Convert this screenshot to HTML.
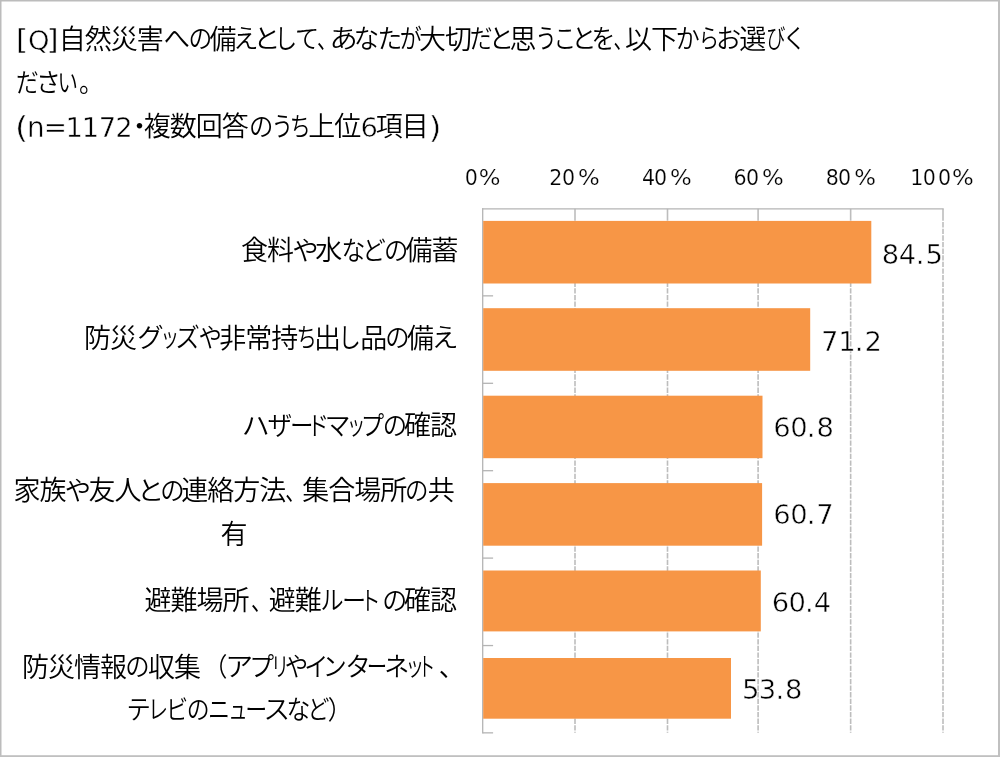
<!DOCTYPE html>
<html lang="ja"><head><meta charset="utf-8"><title>chart</title>
<style>
html,body{margin:0;padding:0;background:#fff}
body{width:1000px;height:757px;overflow:hidden;position:relative}
svg{position:absolute;left:0;top:0;display:block}
text{font-family:"Liberation Sans","Noto Sans CJK JP",sans-serif;fill:#000;white-space:pre;font-size:26.0px;font-weight:350}
.num{font-family:"DejaVu Sans","Liberation Sans",sans-serif;font-weight:400;stroke:#fff;stroke-width:0.5px}
.ax{font-size:20.6px;stroke-width:0.2px}
.kj{font-size:27px;letter-spacing:-1px}
</style></head><body>
<svg width="1000" height="757" viewBox="0 0 1000 757">
<rect x="0" y="0" width="1000" height="757" fill="#fff"/>
<rect x="0" y="0" width="1000" height="1.5" fill="#bcbcbc"/>
<rect x="0" y="0" width="1.5" height="757" fill="#bcbcbc"/>
<rect x="998" y="0" width="2" height="757" fill="#c0c0c0"/>
<rect x="0" y="755.2" width="1000" height="1.8" fill="#c0c0c0"/>
<line x1="575.00" y1="208.80" x2="575.00" y2="220.7" stroke="#bdbdbd" stroke-width="1.6"/>
<line x1="575.00" y1="222.1" x2="575.00" y2="732.85" stroke="#bdbdbd" stroke-width="1.6" stroke-dasharray="5.3 1.32"/>
<line x1="667.50" y1="208.80" x2="667.50" y2="220.7" stroke="#bdbdbd" stroke-width="1.6"/>
<line x1="667.50" y1="222.1" x2="667.50" y2="732.85" stroke="#bdbdbd" stroke-width="1.6" stroke-dasharray="5.3 1.32"/>
<line x1="758.10" y1="208.80" x2="758.10" y2="220.7" stroke="#bdbdbd" stroke-width="1.6"/>
<line x1="758.10" y1="222.1" x2="758.10" y2="732.85" stroke="#bdbdbd" stroke-width="1.6" stroke-dasharray="5.3 1.32"/>
<line x1="850.65" y1="208.80" x2="850.65" y2="220.7" stroke="#bdbdbd" stroke-width="1.6"/>
<line x1="850.65" y1="222.1" x2="850.65" y2="732.85" stroke="#bdbdbd" stroke-width="1.6" stroke-dasharray="5.3 1.32"/>
<line x1="943.00" y1="208.80" x2="943.00" y2="220.7" stroke="#bdbdbd" stroke-width="1.6"/>
<line x1="943.00" y1="222.1" x2="943.00" y2="732.85" stroke="#bdbdbd" stroke-width="1.6" stroke-dasharray="5.3 1.32"/>
<line x1="482.05" y1="208.8" x2="943.65" y2="208.8" stroke="#b4b4b4" stroke-width="1.3"/>
<line x1="482.7" y1="208.15" x2="482.7" y2="733.5" stroke="#b4b4b4" stroke-width="1.3"/>
<line x1="482.7" y1="295.85" x2="493.10" y2="295.85" stroke="#b4b4b4" stroke-width="1.3"/>
<line x1="482.7" y1="383.3" x2="493.10" y2="383.3" stroke="#b4b4b4" stroke-width="1.3"/>
<line x1="482.7" y1="470.7" x2="493.10" y2="470.7" stroke="#b4b4b4" stroke-width="1.3"/>
<line x1="482.7" y1="558.1" x2="493.10" y2="558.1" stroke="#b4b4b4" stroke-width="1.3"/>
<line x1="482.7" y1="645.55" x2="493.10" y2="645.55" stroke="#b4b4b4" stroke-width="1.3"/>
<line x1="482.7" y1="732.85" x2="493.10" y2="732.85" stroke="#b4b4b4" stroke-width="1.3"/>
<rect x="483.20" y="220.9" width="388.10" height="62.60" fill="#f79646"/>
<rect x="483.20" y="308.2" width="327.00" height="62.60" fill="#f79646"/>
<rect x="483.20" y="395.7" width="279.30" height="62.50" fill="#f79646"/>
<rect x="483.20" y="483.1" width="278.90" height="62.60" fill="#f79646"/>
<rect x="483.20" y="570.5" width="277.60" height="60.90" fill="#f79646"/>
<rect x="483.20" y="658.0" width="247.80" height="60.70" fill="#f79646"/>
<text class="num ax" y="184.6"><tspan x="464.64">0</tspan><tspan x="478.74" textLength="21.72" lengthAdjust="spacingAndGlyphs">%</tspan></text>
<text class="num ax" y="184.6"><tspan x="549.36 561.90">20</tspan><tspan x="578.00" textLength="21.72" lengthAdjust="spacingAndGlyphs">%</tspan></text>
<text class="num ax" y="184.6"><tspan x="641.91 653.96">40</tspan><tspan x="670.06" textLength="21.72" lengthAdjust="spacingAndGlyphs">%</tspan></text>
<text class="num ax" y="184.6"><tspan x="733.54 746.02">60</tspan><tspan x="762.12" textLength="21.72" lengthAdjust="spacingAndGlyphs">%</tspan></text>
<text class="num ax" y="184.6"><tspan x="825.64 838.08">80</tspan><tspan x="854.18" textLength="21.72" lengthAdjust="spacingAndGlyphs">%</tspan></text>
<text class="num ax" y="184.6"><tspan x="910.23 922.74 937.94">100</tspan><tspan x="952.04" textLength="21.72" lengthAdjust="spacingAndGlyphs">%</tspan></text>
<text class="num" style="font-size:27.4px" x="881.74 898.66 915.87 925.49" y="264.0">84.5</text>
<text class="num" style="font-size:27.4px" x="820.95 838.19 854.67 864.40" y="351.2">71.2</text>
<text class="num" style="font-size:27.4px" x="773.28 790.19 806.67 816.54" y="437.0">60.8</text>
<text class="num" style="font-size:27.4px" x="773.28 790.19 806.67 816.15" y="524.3">60.7</text>
<text class="num" style="font-size:27.4px" x="771.68 788.59 805.07 813.86" y="611.7">60.4</text>
<text class="num" style="font-size:27.4px" x="741.89 758.72 775.47 784.94" y="699.0">53.8</text>
<text><tspan class="num" style="font-size:28.8px" x="15.68" y="50.00" textLength="12.58" lengthAdjust="spacingAndGlyphs">[</tspan><tspan class="num" style="font-size:27.4px" x="27.97" y="49.60">Q</tspan><tspan class="num" style="font-size:28.8px" x="46.39" y="50.00" textLength="12.58" lengthAdjust="spacingAndGlyphs">]</tspan><tspan class="kj" x="58.80" y="48.80">自然災害</tspan><tspan x="163.51" y="48.4" textLength="26.54" lengthAdjust="spacingAndGlyphs">へ</tspan><tspan x="188.41" y="48.4" textLength="23.78" lengthAdjust="spacingAndGlyphs">の</tspan><tspan class="kj" x="209.60" y="48.80">備</tspan><tspan x="233.32" y="48.4" textLength="25.25" lengthAdjust="spacingAndGlyphs">え</tspan><tspan x="253.25" y="48.4" textLength="27.34" lengthAdjust="spacingAndGlyphs">と</tspan><tspan x="274.62" y="48.4" textLength="22.69" lengthAdjust="spacingAndGlyphs">し</tspan><tspan x="294.95" y="48.4" textLength="24.15" lengthAdjust="spacingAndGlyphs">て</tspan><tspan x="316.97" y="48.4" textLength="19.90" lengthAdjust="spacingAndGlyphs">、</tspan><tspan x="329.42" y="48.4" textLength="28.27" lengthAdjust="spacingAndGlyphs">あ</tspan><tspan x="353.87" y="48.4" textLength="25.36" lengthAdjust="spacingAndGlyphs">な</tspan><tspan x="377.50" y="48.4" textLength="24.78" lengthAdjust="spacingAndGlyphs">た</tspan><tspan x="399.84" y="48.4" textLength="21.98" lengthAdjust="spacingAndGlyphs">が</tspan><tspan class="kj" x="419.10" y="48.80">大切</tspan><tspan x="469.63" y="48.4" textLength="22.75" lengthAdjust="spacingAndGlyphs">だ</tspan><tspan x="488.65" y="48.4" textLength="25.39" lengthAdjust="spacingAndGlyphs">と</tspan><tspan class="kj" x="509.60" y="48.80">思</tspan><tspan x="535.18" y="48.4" textLength="21.52" lengthAdjust="spacingAndGlyphs">う</tspan><tspan x="553.58" y="48.4" textLength="22.66" lengthAdjust="spacingAndGlyphs">こ</tspan><tspan x="571.15" y="48.4" textLength="25.39" lengthAdjust="spacingAndGlyphs">と</tspan><tspan x="591.49" y="48.4" textLength="23.82" lengthAdjust="spacingAndGlyphs">を</tspan><tspan x="613.51" y="48.4" textLength="19.03" lengthAdjust="spacingAndGlyphs">、</tspan><tspan class="kj" x="625.10" y="48.80">以下</tspan><tspan x="675.63" y="48.4" textLength="23.96" lengthAdjust="spacingAndGlyphs">か</tspan><tspan x="698.87" y="48.4" textLength="20.40" lengthAdjust="spacingAndGlyphs">ら</tspan><tspan x="716.11" y="48.4" textLength="25.15" lengthAdjust="spacingAndGlyphs">お</tspan><tspan class="kj" x="739.25" y="48.80">選</tspan><tspan x="766.27" y="48.4" textLength="19.21" lengthAdjust="spacingAndGlyphs">び</tspan><tspan x="782.58" y="48.4" textLength="23.99" lengthAdjust="spacingAndGlyphs">く</tspan></text>
<text><tspan x="15.88" y="92.0" textLength="22.75" lengthAdjust="spacingAndGlyphs">だ</tspan><tspan x="36.07" y="92.0" textLength="24.86" lengthAdjust="spacingAndGlyphs">さ</tspan><tspan x="57.42" y="92.0" textLength="20.47" lengthAdjust="spacingAndGlyphs">い</tspan><tspan x="78.97" y="92.0" textLength="24.59" lengthAdjust="spacingAndGlyphs">。</tspan></text>
<text><tspan class="num" style="font-size:30.0px" x="14.91" y="137.60" textLength="13.10" lengthAdjust="spacingAndGlyphs">(</tspan><tspan class="num" style="font-size:27.8px" x="26.97 43.85" y="136.80">n=</tspan><tspan class="num" style="font-size:27.4px" x="65.49 81.79 98.75 115.30" y="136.80">1172</tspan><tspan class="kj" x="126.00" y="136.40">・</tspan><tspan class="kj" x="143.75" y="136.40">複数回答</tspan><tspan x="249.10" y="136.0" textLength="24.39" lengthAdjust="spacingAndGlyphs">の</tspan><tspan x="271.43" y="136.0" textLength="21.52" lengthAdjust="spacingAndGlyphs">う</tspan><tspan x="289.65" y="136.0" textLength="21.00" lengthAdjust="spacingAndGlyphs">ち</tspan><tspan class="kj" x="308.25" y="136.40">上位</tspan><tspan class="num" style="font-size:27.4px" x="360.58" y="136.80">6</tspan><tspan class="kj" x="375.70" y="136.40">項目</tspan><tspan class="num" style="font-size:30.0px" x="428.69" y="137.60" textLength="12.71" lengthAdjust="spacingAndGlyphs">)</tspan></text>
<text><tspan class="kj" x="241.00" y="260.40">食料</tspan><tspan x="292.17" y="260.0" textLength="26.38" lengthAdjust="spacingAndGlyphs">や</tspan><tspan class="kj" x="315.25" y="260.40">水</tspan><tspan x="341.51" y="260.0" textLength="23.87" lengthAdjust="spacingAndGlyphs">な</tspan><tspan x="362.13" y="260.0" textLength="23.56" lengthAdjust="spacingAndGlyphs">ど</tspan><tspan x="384.10" y="260.0" textLength="24.39" lengthAdjust="spacingAndGlyphs">の</tspan><tspan class="kj" x="405.40" y="260.40">備蓄</tspan></text>
<text><tspan class="kj" x="84.10" y="347.60">防災</tspan><tspan x="137.22" y="347.2" textLength="26.39" lengthAdjust="spacingAndGlyphs">グ</tspan><tspan x="160.44" y="347.2" textLength="18.71" lengthAdjust="spacingAndGlyphs">ッ</tspan><tspan x="175.55" y="347.2" textLength="24.31" lengthAdjust="spacingAndGlyphs">ズ</tspan><tspan x="198.59" y="347.2" textLength="23.45" lengthAdjust="spacingAndGlyphs">や</tspan><tspan class="kj" x="219.25" y="347.60">非常持</tspan><tspan x="296.47" y="347.2" textLength="20.33" lengthAdjust="spacingAndGlyphs">ち</tspan><tspan class="kj" x="314.00" y="347.60">出</tspan><tspan x="338.37" y="347.2" textLength="22.69" lengthAdjust="spacingAndGlyphs">し</tspan><tspan class="kj" x="360.25" y="347.60">品</tspan><tspan x="385.35" y="347.2" textLength="24.39" lengthAdjust="spacingAndGlyphs">の</tspan><tspan class="kj" x="407.10" y="347.60">備</tspan><tspan x="431.89" y="347.2" textLength="26.83" lengthAdjust="spacingAndGlyphs">え</tspan></text>
<text><tspan x="241.65" y="434.5" textLength="27.97" lengthAdjust="spacingAndGlyphs">ハ</tspan><tspan x="267.53" y="434.5" textLength="24.81" lengthAdjust="spacingAndGlyphs">ザ</tspan><tspan x="290.09" y="434.5" textLength="23.58" lengthAdjust="spacingAndGlyphs">ー</tspan><tspan x="307.28" y="434.5" textLength="21.78" lengthAdjust="spacingAndGlyphs">ド</tspan><tspan x="324.85" y="434.5" textLength="25.73" lengthAdjust="spacingAndGlyphs">マ</tspan><tspan x="346.69" y="434.5" textLength="18.71" lengthAdjust="spacingAndGlyphs">ッ</tspan><tspan x="360.71" y="434.5" textLength="23.42" lengthAdjust="spacingAndGlyphs">プ</tspan><tspan x="382.85" y="434.5" textLength="24.39" lengthAdjust="spacingAndGlyphs">の</tspan><tspan class="kj" x="404.10" y="434.90">確認</tspan></text>
<text><tspan class="kj" x="13.50" y="500.40">家族</tspan><tspan x="64.67" y="500.0" textLength="26.38" lengthAdjust="spacingAndGlyphs">や</tspan><tspan class="kj" x="88.50" y="500.40">友人</tspan><tspan x="137.00" y="500.0" textLength="27.34" lengthAdjust="spacingAndGlyphs">と</tspan><tspan x="160.35" y="500.0" textLength="24.39" lengthAdjust="spacingAndGlyphs">の</tspan><tspan class="kj" x="181.25" y="500.40">連絡方法</tspan><tspan x="285.22" y="500.0" textLength="19.90" lengthAdjust="spacingAndGlyphs">、</tspan><tspan class="kj" x="302.25" y="500.40">集合場所</tspan><tspan x="404.93" y="500.0" textLength="23.48" lengthAdjust="spacingAndGlyphs">の</tspan><tspan class="kj" x="427.75" y="500.40">共</tspan></text>
<text><tspan class="kj" x="220.50" y="543.90">有</tspan></text>
<text><tspan class="kj" x="144.40" y="610.40">避難場所</tspan><tspan x="250.92" y="610.0" textLength="20.76" lengthAdjust="spacingAndGlyphs">、</tspan><tspan class="kj" x="268.80" y="610.40">避難</tspan><tspan x="320.47" y="610.0" textLength="23.14" lengthAdjust="spacingAndGlyphs">ル</tspan><tspan x="342.03" y="610.0" textLength="24.21" lengthAdjust="spacingAndGlyphs">ー</tspan><tspan x="360.33" y="610.0" textLength="20.27" lengthAdjust="spacingAndGlyphs">ト</tspan><tspan x="382.30" y="610.0" textLength="25.00" lengthAdjust="spacingAndGlyphs">の</tspan><tspan class="kj" x="404.10" y="610.40">確認</tspan></text>
<text><tspan class="kj" x="21.90" y="676.60">防災情報</tspan><tspan x="125.35" y="676.2" textLength="24.39" lengthAdjust="spacingAndGlyphs">の</tspan><tspan class="kj" x="147.90" y="676.60">収集</tspan><tspan x="203.23" y="676.2" textLength="24.13" lengthAdjust="spacingAndGlyphs">（</tspan><tspan x="225.29" y="676.2" textLength="27.88" lengthAdjust="spacingAndGlyphs">ア</tspan><tspan x="249.27" y="676.2" textLength="24.88" lengthAdjust="spacingAndGlyphs">プ</tspan><tspan x="271.04" y="676.2" textLength="17.99" lengthAdjust="spacingAndGlyphs">リ</tspan><tspan x="284.84" y="676.2" textLength="23.45" lengthAdjust="spacingAndGlyphs">や</tspan><tspan x="304.17" y="676.2" textLength="24.13" lengthAdjust="spacingAndGlyphs">イ</tspan><tspan x="322.87" y="676.2" textLength="23.98" lengthAdjust="spacingAndGlyphs">ン</tspan><tspan x="345.14" y="676.2" textLength="25.61" lengthAdjust="spacingAndGlyphs">タ</tspan><tspan x="366.67" y="676.2" textLength="20.44" lengthAdjust="spacingAndGlyphs">ー</tspan><tspan x="384.27" y="676.2" textLength="25.09" lengthAdjust="spacingAndGlyphs">ネ</tspan><tspan x="405.44" y="676.2" textLength="18.71" lengthAdjust="spacingAndGlyphs">ッ</tspan><tspan x="418.19" y="676.2" textLength="16.89" lengthAdjust="spacingAndGlyphs">ト</tspan><tspan x="438.65" y="676.2" textLength="25.95" lengthAdjust="spacingAndGlyphs">、</tspan></text>
<text><tspan x="126.43" y="718.5" textLength="24.39" lengthAdjust="spacingAndGlyphs">テ</tspan><tspan x="148.04" y="718.5" textLength="20.07" lengthAdjust="spacingAndGlyphs">レ</tspan><tspan x="165.89" y="718.5" textLength="22.08" lengthAdjust="spacingAndGlyphs">ビ</tspan><tspan x="186.74" y="718.5" textLength="22.87" lengthAdjust="spacingAndGlyphs">の</tspan><tspan x="207.97" y="718.5" textLength="22.01" lengthAdjust="spacingAndGlyphs">ニ</tspan><tspan x="228.35" y="718.5" textLength="19.45" lengthAdjust="spacingAndGlyphs">ュ</tspan><tspan x="245.25" y="718.5" textLength="22.01" lengthAdjust="spacingAndGlyphs">ー</tspan><tspan x="263.59" y="718.5" textLength="26.60" lengthAdjust="spacingAndGlyphs">ス</tspan><tspan x="286.51" y="718.5" textLength="23.87" lengthAdjust="spacingAndGlyphs">な</tspan><tspan x="307.40" y="718.5" textLength="21.98" lengthAdjust="spacingAndGlyphs">ど</tspan><tspan x="327.64" y="718.5" textLength="24.13" lengthAdjust="spacingAndGlyphs">）</tspan></text>
</svg></body></html>
